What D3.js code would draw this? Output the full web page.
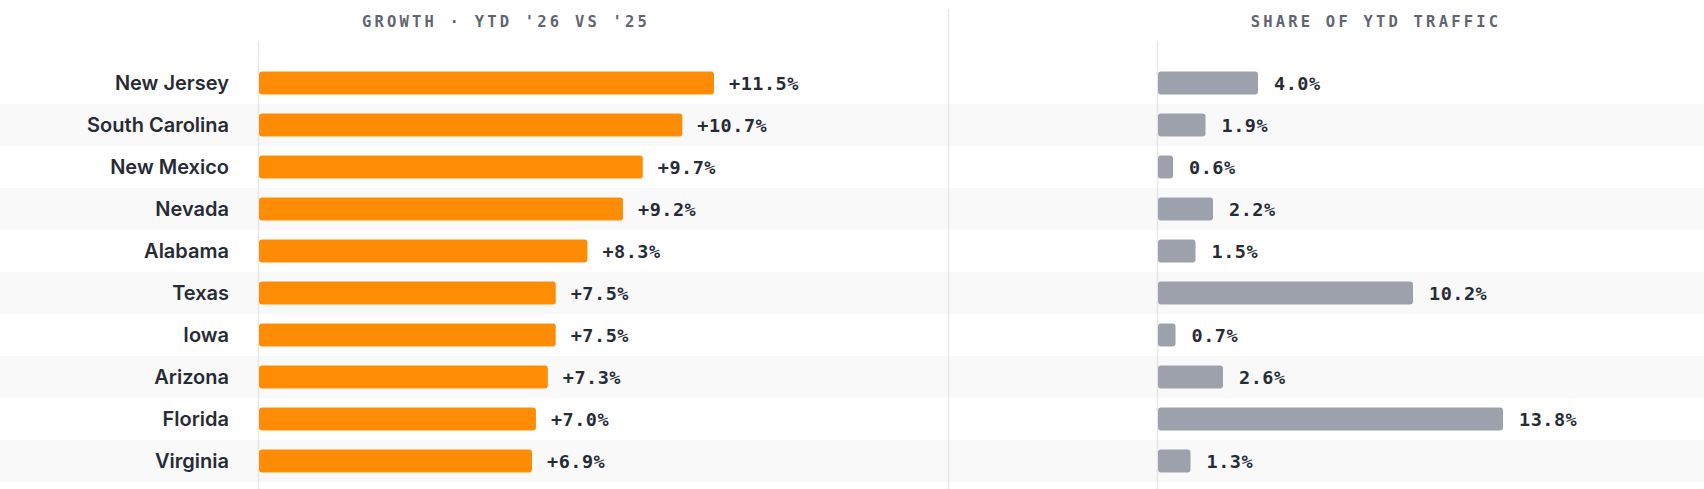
<!DOCTYPE html>
<html>
<head>
<meta charset="utf-8">
<script src="https://cdn.jsdelivr.net/npm/d3@7/dist/d3.min.js"></script>
<style>
  html, body { margin: 0; padding: 0; background: #ffffff; }
  svg { display: block; }
</style>
</head>
<body>
<svg id="chart" width="1704" height="489"></svg>
<script>
const states = ["New Jersey", "South Carolina", "New Mexico", "Nevada", "Alabama", "Texas", "Iowa", "Arizona", "Florida", "Virginia"];
const growth = [11.5, 10.7, 9.7, 9.2, 8.3, 7.5, 7.5, 7.3, 7.0, 6.9];
const share = [4.0, 1.9, 0.6, 2.2, 1.5, 10.2, 0.7, 2.6, 13.8, 1.3];
const titles = ["GROWTH · YTD '26 VS '25", "SHARE OF YTD TRAFFIC"];

const W = 1704, H = 489;
const svg = d3.select("#chart");
const mono = "'DejaVu Sans Mono', 'Liberation Mono', monospace";
const sans = "Inter, 'Noto Sans', sans-serif";

const rows = states.map((s, i) => ({ state: s, growth: growth[i], share: share[i], i }));

const y = d3.scaleBand().domain(states).range([62, 482]).paddingInner(0).paddingOuter(0);
const barH = 23;

const xG = d3.scaleLinear().domain([0, 11.5]).range([259, 714]);
const xS = d3.scaleLinear().domain([0, 13.8]).range([1158, 1503]);

// alternating row bands
svg.append("g").selectAll("rect")
  .data(rows.filter(d => d.i % 2 === 1))
  .join("rect")
  .attr("x", 0).attr("width", W)
  .attr("y", d => y(d.state)).attr("height", y.bandwidth())
  .attr("fill", "#f9f9fa");

// divider + baselines
svg.append("line").attr("x1", 948.5).attr("x2", 948.5).attr("y1", 9).attr("y2", H)
  .attr("stroke", "#e8e9ec").attr("stroke-width", 1.5);
[xG(0), xS(0)].forEach(x0 => {
  svg.append("line").attr("x1", x0 - 0.5).attr("x2", x0 - 0.5).attr("y1", 41).attr("y2", H)
    .attr("stroke", "#e5e7eb").attr("stroke-width", 1.5);
});

// titles
svg.append("text").attr("x", 506).attr("y", 27).attr("text-anchor", "middle")
  .attr("font-family", mono).attr("font-size", 15.5).attr("font-weight", 700)
  .attr("letter-spacing", "3.2px").attr("fill", "#5f6571").text(titles[0]);
svg.append("text").attr("x", 1376).attr("y", 27).attr("text-anchor", "middle")
  .attr("font-family", mono).attr("font-size", 15.5).attr("font-weight", 700)
  .attr("letter-spacing", "3.2px").attr("fill", "#5f6571").text(titles[1]);

// category labels
svg.append("g").selectAll("text")
  .data(rows).join("text")
  .attr("x", 229).attr("y", d => y(d.state) + y.bandwidth() / 2)
  .attr("dy", "0.36em").attr("text-anchor", "end")
  .attr("font-family", sans).attr("font-size", 20).attr("font-weight", 600)
  .attr("fill", "#272b36").text(d => d.state);

// growth bars
svg.append("g").selectAll("rect")
  .data(rows).join("rect")
  .attr("x", xG(0)).attr("y", d => y(d.state) + (y.bandwidth() - barH) / 2)
  .attr("width", d => xG(d.growth) - xG(0)).attr("height", barH)
  .attr("rx", 3).attr("fill", "#ff8c05");

svg.append("g").selectAll("text")
  .data(rows).join("text")
  .attr("x", d => xG(d.growth) + 15).attr("y", d => y(d.state) + y.bandwidth() / 2)
  .attr("dy", "0.36em")
  .attr("font-family", mono).attr("font-size", 18.5).attr("font-weight", 700)
  .attr("letter-spacing", "0.5px").attr("fill", "#272b36")
  .text(d => "+" + d.growth.toFixed(1) + "%");

// share bars
svg.append("g").selectAll("rect")
  .data(rows).join("rect")
  .attr("x", xS(0)).attr("y", d => y(d.state) + (y.bandwidth() - barH) / 2)
  .attr("width", d => xS(d.share) - xS(0)).attr("height", barH)
  .attr("rx", 3).attr("fill", "#9ca1ab");

svg.append("g").selectAll("text")
  .data(rows).join("text")
  .attr("x", d => xS(d.share) + 16).attr("y", d => y(d.state) + y.bandwidth() / 2)
  .attr("dy", "0.36em")
  .attr("font-family", mono).attr("font-size", 18.5).attr("font-weight", 700)
  .attr("letter-spacing", "0.5px").attr("fill", "#272b36")
  .text(d => d.share.toFixed(1) + "%");
</script>
</body>
</html>
